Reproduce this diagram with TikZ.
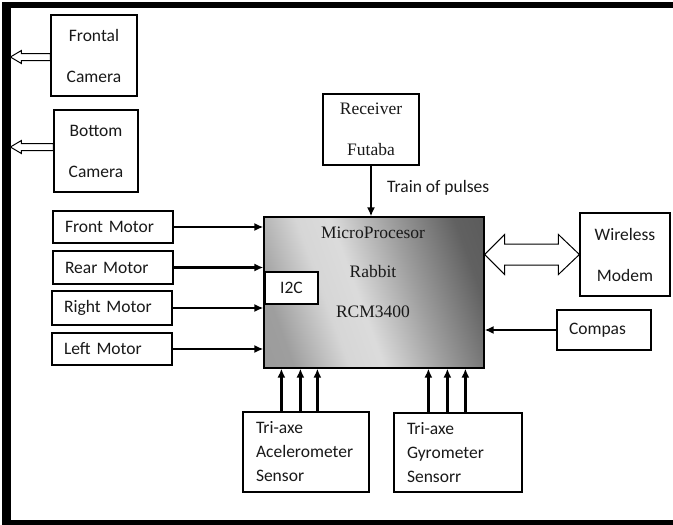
\documentclass[tikz,border=0pt]{standalone}
\usepackage{fontspec}
\setmainfont{Liberation Serif}
\newfontfamily\sansf{Carlito}
\usetikzlibrary{calc,arrows.meta}
\pgfdeclarehorizontalshading{procshade}{100bp}{color(0bp)=(black!42); color(25bp)=(black!38); color(38bp)=(black!16); color(46bp)=(black!14); color(60bp)=(black!38); color(75bp)=(black!62); color(100bp)=(black!70)}
\tikzset{
  box/.style={draw=black, line width=1.2pt, fill=white, inner sep=0pt, font=\sansf\fontsize{17.5}{21}\selectfont, text=black!90},
  serifbox/.style={box, font=\fontsize{17.5}{41}\selectfont, align=center},
  sansbox/.style={box, font=\sansf\fontsize{17.5}{41}\selectfont, align=center},
  leftbox/.style={box, align=left, inner xsep=12pt},
  sensorbox/.style={box, align=left, inner xsep=13pt, font=\sansf\fontsize{17.5}{24}\selectfont},
  conn/.style={line width=2.4pt, -{Latex[length=9pt,width=8pt]}},
  hollow/.style={draw=black, line width=1pt, fill=white, line join=miter}
}
\begin{document}
\begin{tikzpicture}[x=1pt,y=-1pt]
\useasboundingbox (0,0) rectangle (673,525);
\fill[white] (-20,-20) rectangle (700,545);
\fill[black] (2,2) rectangle (700,8);
\fill[black] (2,2) rectangle (11,545);
\fill[black] (2,520) rectangle (700,545);

% cameras
\node[sansbox, minimum width=86pt, minimum height=81pt] (fc) at (94,55.5) {Frontal\\Camera};
\node[sansbox, minimum width=84pt, minimum height=82pt] (bc) at (96,151) {Bottom\\Camera};
\draw[hollow] ($(fc.west)+(0,-2)$) -- ++(-29,0) -- ++(0,-3) -- ++(-11,6.5) -- ++(11,6.5) -- ++(0,-3) -- ++(29,0) -- cycle;
\draw[hollow] ($(bc.west)+(0,-7.5)$) -- ++(-32,0) -- ++(0,-3) -- ++(-11,6.5) -- ++(11,6.5) -- ++(0,-3) -- ++(32,0) -- cycle;

% processor
\shade[shading=procshade, shading angle=20] (264,217) rectangle (484,368);
\node[draw=black, line width=1.2pt, minimum width=220pt, minimum height=151pt, inner sep=0pt] (proc) at (374,292.5) {};
\node[font=\fontsize{17.5}{39.5}\selectfont, align=center, text=black!90] (proct) at (373,272) {MicroProcesor\\Rabbit\\RCM3400};
\node[box, minimum width=53pt, minimum height=32pt] (i2c) at (291.5,288) {I2C};

% motors
\node[leftbox, text width=96pt, minimum height=32pt] (fm) at (113,227) {Front Motor};
\node[leftbox, text width=96pt, minimum height=33pt] (rm) at (113,267.5) {Rear Motor};
\node[leftbox, text width=96pt, minimum height=34pt] (rtm) at (112,308) {Right Motor};
\node[leftbox, text width=96pt, minimum height=32pt] (lm) at (112,349) {Left Motor};
\draw[conn] (fm.east) -- (fm.east -| proc.west);
\draw[conn] (rm.east) -- (rm.east -| proc.west);
\draw[conn] (rtm.east) -- (rtm.east -| proc.west);
\draw[conn] (lm.east) -- (lm.east -| proc.west);

% receiver
\node[serifbox, minimum width=96pt, minimum height=71pt] (rf) at (371,129.5) {Receiver\\Futaba};
\draw[conn] (rf.south) -- (rf.south |- proc.north);
\node[anchor=west, inner sep=0pt, font=\sansf\fontsize{17.5}{21}\selectfont, text=black!90] (tp) at (387,188) {Train of pulses};

% wireless
\node[sansbox, minimum width=90pt, minimum height=83pt] (wm) at (625,254.5) {Wireless\\Modem};
\coordinate (wl) at (proc.east |- wm.west);
\coordinate (wr) at (wm.west);
\draw[hollow] (wl) -- ++(20,-20) -- ++(0,9.5) -- ($(wr)+(-21,-10.5)$) -- ++(0,-9.5) -- (wr) -- ++(-21,20) -- ++(0,-9.5) -- ($(wl)+(20,10.5)$) -- ++(0,9.5) -- cycle;

% compas
\node[leftbox, text width=70pt, minimum height=40pt] (cp) at (604,330) {Compas};
\draw[conn] (cp.west) -- (cp.west -| proc.east);

% sensors
\node[sensorbox, text width=100pt, minimum height=80pt] (acc) at (306,452) {Tri-axe\\Acelerometer\\Sensor};
\node[sensorbox, text width=102pt, minimum height=79pt] (gy) at (458,452.5) {Tri-axe\\Gyrometer\\Sensorr};
\foreach \o [count=\i] in {39,58,75} {
  \coordinate (a\i) at ($(acc.north west)+(\o,0)$);
  \draw[conn] (a\i) -- (a\i |- proc.south);
}
\foreach \o [count=\i] in {35,54,72} {
  \coordinate (g\i) at ($(gy.north west)+(\o,0)$);
  \draw[conn] (g\i) -- (g\i |- proc.south);
}
\end{tikzpicture}
\end{document}
